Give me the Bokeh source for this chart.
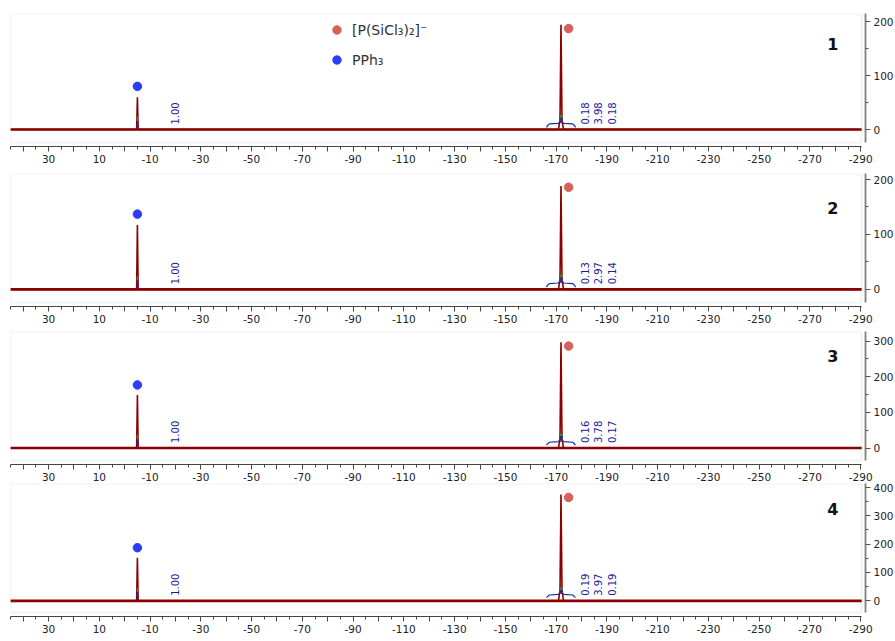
import math
from bokeh.plotting import figure
from bokeh.models import Range1d, FixedTicker, Legend, LegendItem, BoxAnnotation
from bokeh.layouts import column
from bokeh.embed import file_html
from bokeh.resources import INLINE
from bokeh.core.properties import value

# ---------------- data ----------------
panel_names = ["1", "2", "3", "4"]

pph3_shift = -5.0            # ppm
anion_shift = -171.9         # ppm
satellite_shifts = [-171.4, -172.4]
ppm_start, ppm_end = 45.0, -290.3

pph3_height = [60, 117, 149, 152]
anion_height = [194, 188, 297, 374]
satellite_height = [12, 12, 18, 25]

blue_dot_x = -5.0
red_dot_x = -174.9
blue_dot_y = [80, 137, 177, 187]
red_dot_y = [187, 186, 286, 364]

y_min = [-24, -24, -35, -41]
y_max = [215, 211, 327, 413]
y_major_ticks = [[0, 100, 200], [0, 100, 200], [0, 100, 200, 300], [0, 100, 200, 300, 400]]
y_minor_ticks = [[50, 150], [50, 150], [50, 150, 250], [50, 150, 250, 350]]

x_major_ticks = [40, 30, 20, 10, 0, -10, -20, -30, -40, -50, -60, -70, -80, -90, -100,
                 -110, -120, -130, -140, -150, -160, -170, -180, -190, -200, -210, -220,
                 -230, -240, -250, -260, -270, -280, -290]
x_minor_ticks = [45, 35, 25, 15, 5, -5, -15, -25, -35, -45, -55, -65, -75, -85, -95, -105,
                 -115, -125, -135, -145, -155, -165, -175, -185, -195, -205, -215, -225,
                 -235, -245, -255, -265, -275, -285]
x_tick_labels = ["30", "10", "-10", "-30", "-50", "-70", "-90", "-110", "-130", "-150",
                 "-170", "-190", "-210", "-230", "-250", "-270", "-290"]
x_labeled_ticks = [30, 10, -10, -30, -50, -70, -90, -110, -130, -150,
                   -170, -190, -210, -230, -250, -270, -290]

integral_pph3_x = [-20.0]
integral_pph3_text = [["1.00"], ["1.00"], ["1.00"], ["1.00"]]
integral_anion_x = [-181.3, -186.4, -192.0]
integral_anion_text = [["0.18", "3.98", "0.18"], ["0.13", "2.97", "0.14"],
                       ["0.16", "3.78", "0.17"], ["0.19", "3.97", "0.19"]]

# integral bracket / integral-curve levels (data units per panel)
brace_lo = [7, 7, 11, 14]
brace_hi = [17, 17, 26, 33]
int_pph3_blue = [16, 16, 25, 31]
int_pph3_green = [24, 24, 37, 46]
int_anion_blue = [(18, 22), (18, 22), (27, 34), (31, 38)]
int_anion_green = [(22, 27), (22, 27), (34, 41), (38, 47)]

label_y = [158, 148, 259, 325]
label_x = -279.0

legend_labels = ["[P(SiCl\u2083)\u2082]\u207b", "PPh\u2083"]

# ---------------- style ----------------
SPEC = "#8b0000"
RED = "#d8605a"
BLUE = "#2b3df5"
INTEG = "#1c1ca0"
BRACE = "#1a2a9a"
FONT = "DejaVu Sans"
FRAME_W = 855
FRAME_H = 133
GAP = 4
top_borders = [13, 8, 6, 0]

figs = []
for i in range(4):
    # frame = grey box + a 4px gap before the axes (as in the reference)
    x_lo = ppm_end - GAP * (ppm_start - ppm_end) / (FRAME_W - GAP)
    y_lo = y_min[i] - GAP * (y_max[i] - y_min[i]) / (FRAME_H - GAP)
    p = figure(frame_width=FRAME_W, frame_height=FRAME_H,
               x_range=Range1d(ppm_start, x_lo), y_range=Range1d(y_lo, y_max[i]),
               output_backend="svg", toolbar_location=None,
               y_axis_location="right",
               min_border_left=10, min_border_top=top_borders[i],
               min_border_right=0, min_border_bottom=0)
    p.outline_line_color = None
    p.xgrid.visible = False
    p.ygrid.visible = False
    p.background_fill_color = "white"

    p.add_layout(BoxAnnotation(left=ppm_start, right=ppm_end, bottom=y_min[i], top=y_max[i],
                               fill_alpha=0, line_color="#cfcfcf", line_width=2,
                               level="underlay"))

    xa = p.xaxis[0]
    xa.ticker = FixedTicker(ticks=x_major_ticks, minor_ticks=x_minor_ticks)
    overrides = {t: "" for t in x_major_ticks}
    for t, lab in zip(x_labeled_ticks, x_tick_labels):
        overrides[t] = lab
    xa.major_label_overrides = overrides
    xa.bounds = (ppm_end, ppm_start)
    ya = p.yaxis[0]
    ya.ticker = FixedTicker(ticks=y_major_ticks[i], minor_ticks=y_minor_ticks[i])
    ya.major_label_overrides = {t: str(t) for t in y_major_ticks[i]}
    ya.bounds = (y_min[i], y_max[i])
    for ax in (xa, ya):
        ax.major_tick_in = 0
        ax.major_tick_out = 5
        ax.minor_tick_in = 0
        ax.minor_tick_out = 3
        ax.major_label_text_font = FONT
        ax.major_label_text_font_size = "10.5px"
        ax.major_label_text_color = "#222222"
        ax.major_label_standoff = 3
    xa.axis_line_color = "#444444"
    xa.axis_line_width = 1.2
    xa.major_tick_line_color = "#444444"
    xa.minor_tick_line_color = "#444444"
    ya.axis_line_color = "#808080"
    ya.axis_line_width = 1.8
    ya.major_tick_line_color = "#555555"
    ya.minor_tick_line_color = "#555555"

    # spectrum
    ppm = [ppm_start, pph3_shift + 0.3, pph3_shift, pph3_shift - 0.3,
           anion_shift + 1.0, satellite_shifts[0] + 0.1, satellite_shifts[0] - 0.1,
           anion_shift, satellite_shifts[1] + 0.1, satellite_shifts[1] - 0.1,
           anion_shift - 1.0, ppm_end]
    inten = [0, 0, pph3_height[i], 0,
             0, satellite_height[i], satellite_height[i],
             anion_height[i], satellite_height[i], satellite_height[i],
             0, 0]
    p.line(ppm, [0] * len(ppm), line_color=SPEC, line_width=2.6)
    p.line(ppm, inten, line_color=SPEC, line_width=1.6)

    # integral curves (vertical at sharp peaks)
    p.segment(x0=[pph3_shift], y0=[0], x1=[pph3_shift], y1=[int_pph3_blue[i]],
              line_color=BRACE, line_width=1.6)
    p.segment(x0=[pph3_shift], y0=[int_pph3_blue[i]], x1=[pph3_shift], y1=[int_pph3_green[i]],
              line_color="#2e8b2e", line_width=1.6)
    p.segment(x0=[anion_shift], y0=[int_anion_blue[i][0]], x1=[anion_shift], y1=[int_anion_blue[i][1]],
              line_color=BRACE, line_width=3)
    p.segment(x0=[anion_shift], y0=[int_anion_green[i][0]], x1=[anion_shift], y1=[int_anion_green[i][1]],
              line_color="#2e8b2e", line_width=3)

    # integral bracket (overbrace shape)
    lo, hi = brace_lo[i], brace_hi[i]
    mid = lo + (hi - lo) * 0.45
    bx = [-166.2, -166.5, -167.3, -170.8, -171.9, -173.0, -176.5, -177.3, -177.6]
    by = [lo - 3, lo, mid - (hi - lo) * 0.1, mid, hi, mid, mid - (hi - lo) * 0.1, lo, lo - 3]
    p.line(bx, by, line_color=BRACE, line_width=1.2)

    # integral values
    p.text(x=integral_pph3_x, y=[0], text=integral_pph3_text[i], angle=math.pi / 2,
           text_align="left", text_baseline="middle", y_offset=-5,
           text_color=INTEG, text_font=value(FONT), text_font_size="10px")
    p.text(x=integral_anion_x, y=[0] * 3, text=integral_anion_text[i], angle=math.pi / 2,
           text_align="left", text_baseline="middle", y_offset=-5,
           text_color=INTEG, text_font=value(FONT), text_font_size="10px")

    # peak markers
    r_red = p.scatter(x=[red_dot_x], y=[red_dot_y[i]], size=8.5, fill_color=RED,
                      line_color=RED)
    r_blue = p.scatter(x=[blue_dot_x], y=[blue_dot_y[i]], size=8.5, fill_color=BLUE,
                       line_color=BLUE)

    # panel number
    p.text(x=[label_x], y=[label_y[i]], text=[panel_names[i]], text_align="center",
           text_baseline="middle", text_font=value(FONT), text_font_style="bold",
           text_font_size="16px", text_color="#111111")

    if i == 0:
        legend = Legend(items=[LegendItem(label=legend_labels[0], renderers=[r_red]),
                               LegendItem(label=legend_labels[1], renderers=[r_blue])],
                        location=(316, FRAME_H - 57))
        legend.border_line_color = None
        legend.background_fill_alpha = 0
        legend.padding = 0
        legend.margin = 0
        legend.spacing = 9
        legend.glyph_width = 21
        legend.glyph_height = 21
        legend.label_height = 21
        legend.label_standoff = 5
        legend.label_text_font = FONT
        legend.label_text_font_size = "14px"
        legend.label_text_color = "#333333"
        legend.label_text_baseline = "middle"
        p.add_layout(legend)

    figs.append(p)

layout = column(*figs, spacing=0)
open("out.html", "w").write(file_html(layout, INLINE))
